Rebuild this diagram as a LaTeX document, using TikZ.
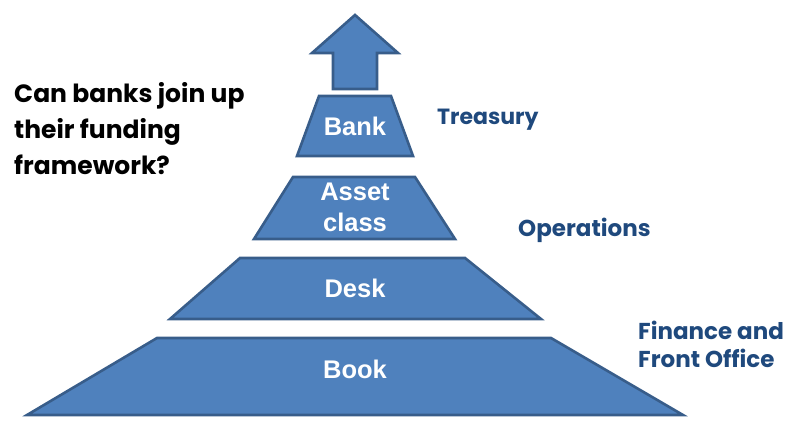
\documentclass[tikz,border=0pt]{standalone}
\usepackage{fontspec}
\setmainfont{Liberation Sans}
\newfontfamily\gothic{Poppins}
\usepackage{tikz}
\usetikzlibrary{positioning}

\definecolor{tierfill}{HTML}{4F81BD}
\definecolor{tierline}{HTML}{385D8A}
\definecolor{sidetext}{HTML}{1F497D}

\tikzset{
  tier/.style={fill=tierfill, draw=tierline, line width=2.6pt, line join=miter},
  tiertext/.style={text=white, font=\fontsize{25.5}{31}\selectfont\bfseries, align=center},
  sidelabel/.style={text=sidetext, font=\gothic\fontsize{23}{28}\selectfont\bfseries, align=left, anchor=west, inner sep=0pt}
}

\begin{document}
\begin{tikzpicture}[x=1pt, y=-1pt]
  \useasboundingbox (0,0) rectangle (786,420);

  % Arrow on top
  \filldraw[tier] (355,15) -- (398,53) -- (377,53) -- (377,89) -- (333,89)
       -- (333,53) -- (312,53) -- cycle;

  % Tiers
  \filldraw[tier] (319,96) -- (391,96) -- (413,156) -- (297,156) -- cycle;
  \filldraw[tier] (293,177) -- (415,177) -- (455,239) -- (254,239) -- cycle;
  \filldraw[tier] (240,258) -- (465,258) -- (541,319) -- (170,319) -- cycle;
  \filldraw[tier] (157,338) -- (551,338) -- (683,415) -- (27,415) -- cycle;

  % Tier names
  \node[tiertext] (bank) at (355,126) {Bank};
  \node[tiertext] (asset) at (355,207) {Asset\\class};
  \node[tiertext] (desk) at (355,288) {Desk};
  \node[tiertext] (book) at (355,369) {Book};

  % Labels
  \node[sidelabel, font=\gothic\fontsize{22}{28}\selectfont\bfseries] (treasury) at (437,120) {Treasury};
  \node[sidelabel] (operations) at (518,230) {Operations};
  \node[sidelabel, align=left] (finance) at (638,344) {Finance and\\Front Office};
  \node[anchor=west, inner sep=0pt, align=left, font=\gothic\fontsize{25}{36}\selectfont\bfseries]
       (question) at (14,129) {Can banks join up\\their funding\\framework?};
\end{tikzpicture}
\end{document}
